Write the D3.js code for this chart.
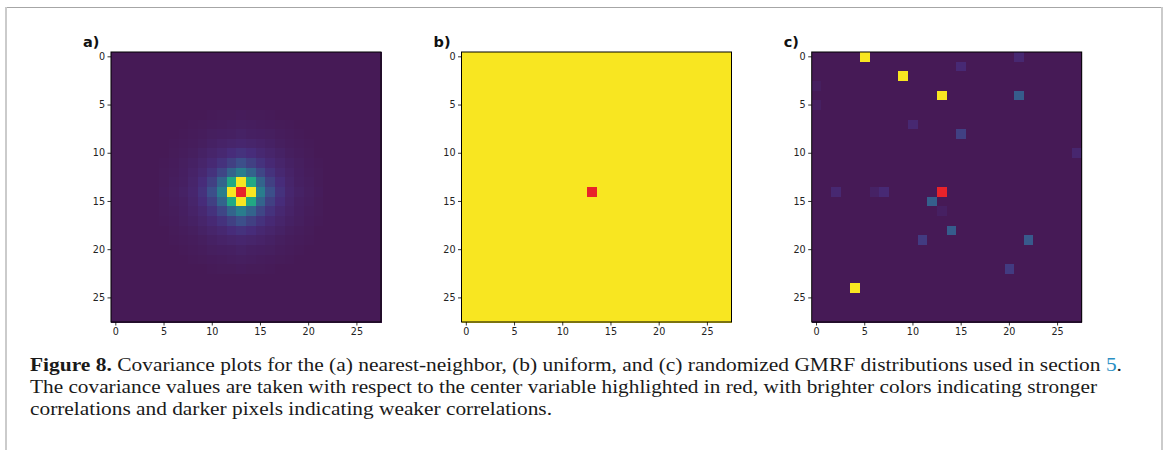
<!DOCTYPE html>
<html>
<head>
<meta charset="utf-8">
<script src="https://cdn.jsdelivr.net/npm/d3@7"></script>
<style>
  body { margin: 0; background: #fff; }
  svg { display: block; }
</style>
</head>
<body>
<svg id="fig" width="1168" height="450"></svg>
<script>
// Grid size and the highlighted centre variable [row, col]
const gridSize = 28;
const centerCell = [14, 13];
const panelLabels = ["a)", "b)", "c)"];
const tickValues = [0, 5, 10, 15, 20, 25];

// (a) nearest-neighbour covariance by |row offset| (outer) and |col offset| (inner)
const nnCovariance = [
  [null, 1.00, 0.42, 0.24, 0.14, 0.08, 0.05, 0.03, 0.015],
  [1.00, 0.60, 0.32, 0.19, 0.12, 0.07, 0.04, 0.025, 0.01],
  [0.42, 0.32, 0.21, 0.14, 0.09, 0.06, 0.035, 0.02, 0.01],
  [0.24, 0.19, 0.14, 0.10, 0.07, 0.045, 0.03, 0.015, 0.005],
  [0.14, 0.12, 0.09, 0.07, 0.05, 0.03, 0.02, 0.01, 0],
  [0.08, 0.07, 0.06, 0.045, 0.03, 0.02, 0.012, 0.005, 0],
  [0.05, 0.04, 0.035, 0.03, 0.02, 0.012, 0.006, 0, 0],
  [0.03, 0.025, 0.02, 0.015, 0.01, 0.005, 0, 0, 0],
  [0.015, 0.01, 0.01, 0.005, 0, 0, 0, 0, 0]
];

// (b) uniform covariance level
const uniformLevel = 1.0;

// (c) randomized GMRF: non-negligible covariances
const randRows   = [0, 2, 4, 24, 4, 15, 18, 19, 8, 19, 22, 0, 1, 7, 10, 14, 14, 14, 16, 3, 5];
const randCols   = [5, 9, 13, 4, 21, 12, 14, 22, 15, 11, 20, 21, 15, 10, 27, 2, 7, 6, 13, 0, 0];
const randValues = [1.0, 1.0, 1.0, 1.0, 0.29, 0.30, 0.29, 0.28, 0.19, 0.17, 0.17,
                    0.09, 0.10, 0.09, 0.08, 0.09, 0.10, 0.05, 0.04, 0.03, 0.04];

// Caption
const captionLines = [
  [{t: "Figure 8.", b: true}, {t: " Covariance plots for the (a) nearest-neighbor, (b) uniform, and (c) randomized GMRF distributions used in section "}, {t: "5", link: true}, {t: "."}],
  [{t: "The covariance values are taken with respect to the center variable highlighted in red, with brighter colors indicating stronger"}],
  [{t: "correlations and darker pixels indicating weaker correlations."}]
];
const captionWidths = [1092, 1067, 522];

const color = d3.scaleLinear()
  .domain([0, 0.12, 0.25, 0.4, 0.6, 0.8, 1])
  .range(["#461a56", "#472c7a", "#3b528b", "#2a788e", "#22a884", "#7ad151", "#f8e621"])
  .clamp(true);
const highlight = "#e8232a";

const svg = d3.select("#fig");

// page frame
svg.append("line").attr("x1", 6).attr("x2", 1162).attr("y1", 7.5).attr("y2", 7.5)
  .attr("stroke", "#a6a6a6").attr("stroke-width", 1);
svg.append("line").attr("x1", 6).attr("x2", 6).attr("y1", 7).attr("y2", 450)
  .attr("stroke", "#cbcbcb").attr("stroke-width", 2);
svg.append("line").attr("x1", 1162).attr("x2", 1162).attr("y1", 7).attr("y2", 450)
  .attr("stroke", "#cbcbcb").attr("stroke-width", 2);

// build the three grids
const cells = d3.range(gridSize).flatMap(r => d3.range(gridSize).map(c => ({r, c})));

const gridA = cells.map(({r, c}) => {
  const dr = Math.abs(r - centerCell[0]), dc = Math.abs(c - centerCell[1]);
  const v = (dr < nnCovariance.length && dc < nnCovariance[0].length) ? nnCovariance[dr][dc] : 0;
  return {r, c, v};
});
const gridB = cells.map(({r, c}) => ({r, c, v: uniformLevel}));
const sparse = new Map(randRows.map((r, i) => [r * gridSize + randCols[i], randValues[i]]));
const gridC = cells.map(({r, c}) => ({r, c, v: sparse.get(r * gridSize + c) || 0}));

const panels = [gridA, gridB, gridC];
const panelX = [111, 461.5, 811.7];
const panelY = 52;
const size = 270;

const x = d3.scaleBand().domain(d3.range(gridSize)).range([0, size]);
const y = d3.scaleBand().domain(d3.range(gridSize)).range([0, size]);

panels.forEach((grid, i) => {
  const g = svg.append("g").attr("transform", `translate(${panelX[i]},${panelY})`);

  g.append("g").attr("shape-rendering", "crispEdges")
    .selectAll("rect").data(grid).join("rect")
    .attr("x", d => x(d.c)).attr("y", d => y(d.r))
    .attr("width", x.bandwidth() + 0.5).attr("height", y.bandwidth() + 0.5)
    .attr("fill", d => (d.r === centerCell[0] && d.c === centerCell[1]) ? highlight : color(d.v));

  g.append("rect").attr("x", 0).attr("y", 0).attr("width", size).attr("height", size)
    .attr("fill", "none").attr("stroke", "#000").attr("stroke-width", 1);

  const xAxis = g.append("g").attr("transform", `translate(0,${size})`)
    .call(d3.axisBottom(x).tickValues(tickValues).tickSize(3.5).tickPadding(2.5));
  const yAxis = g.append("g")
    .call(d3.axisLeft(y).tickValues(tickValues).tickSize(3.5).tickPadding(2.5));
  [xAxis, yAxis].forEach(ax => {
    ax.select(".domain").remove();
    ax.selectAll("line").attr("stroke", "#000").attr("stroke-width", 0.8);
    ax.selectAll("text").attr("fill", "#222")
      .style("font-family", "DejaVu Sans").style("font-size", "9.6px");
  });

  g.append("text").attr("x", -28).attr("y", -5)
    .style("font-family", "DejaVu Sans").style("font-weight", "bold").style("font-size", "14.5px")
    .attr("fill", "#111").text(panelLabels[i]);
});

// caption
const baselines = [371, 393, 415];
captionLines.forEach((parts, i) => {
  const t = svg.append("text").attr("x", 30).attr("y", baselines[i])
    .attr("textLength", captionWidths[i]).attr("lengthAdjust", "spacingAndGlyphs")
    .style("font-family", "Liberation Serif").style("font-size", "19.5px").attr("fill", "#1a1a1a");
  parts.forEach(p => {
    t.append("tspan").text(p.t)
      .style("font-weight", p.b ? "bold" : "normal")
      .attr("fill", p.link ? "#2b8fc4" : "#1a1a1a");
  });
});
</script>
</body>
</html>
